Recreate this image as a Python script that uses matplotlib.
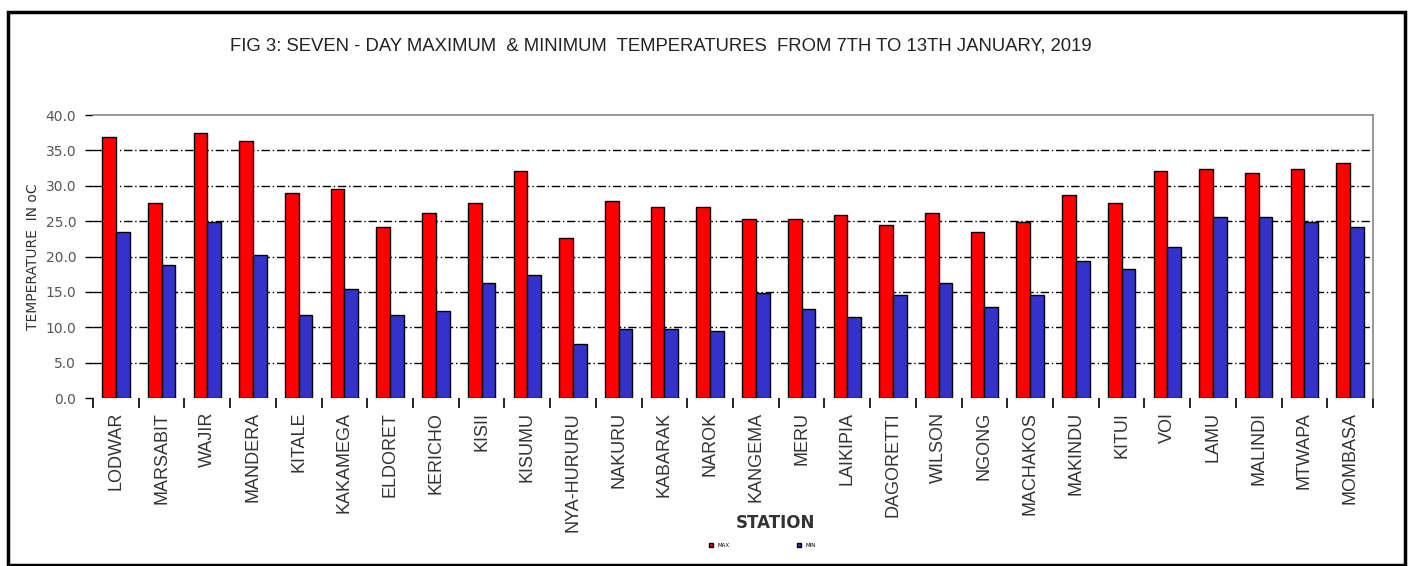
import matplotlib.pyplot as plt
import numpy as np
from matplotlib.patches import Rectangle
from matplotlib.ticker import FixedLocator, MultipleLocator, FormatStrFormatter

stations = ["LODWAR", "MARSABIT", "WAJIR", "MANDERA", "KITALE", "KAKAMEGA",
            "ELDORET", "KERICHO", "KISII", "KISUMU", "NYA-HURURU", "NAKURU",
            "KABARAK", "NAROK", "KANGEMA", "MERU", "LAIKIPIA", "DAGORETTI",
            "WILSON", "NGONG", "MACHAKOS", "MAKINDU", "KITUI", "VOI", "LAMU",
            "MALINDI", "MTWAPA", "MOMBASA"]
t_max = [36.9, 27.6, 37.5, 36.3, 29.0, 29.6, 24.2, 26.1, 27.6, 32.1, 22.6, 27.8,
         27.0, 27.0, 25.3, 25.3, 25.8, 24.4, 26.1, 23.4, 24.9, 28.7, 27.6, 32.1,
         32.4, 31.8, 32.4, 33.2]
t_min = [23.4, 18.8, 24.9, 20.2, 11.7, 15.4, 11.7, 12.3, 16.3, 17.4, 7.7, 9.8,
         9.8, 9.5, 14.9, 12.6, 11.4, 14.5, 16.3, 12.8, 14.5, 19.4, 18.2, 21.4,
         25.6, 25.6, 24.9, 24.2]

fig = plt.figure(figsize=(14.13, 5.66), dpi=100)
ax = fig.add_axes([0.0658, 0.2968, 0.9059, 0.5])

x = np.arange(len(stations))
w = 0.3
ax.bar(x - w / 2, t_max, w, color='#ff0000', edgecolor='black', linewidth=1.0,
       label='MAX', zorder=3)
ax.bar(x + w / 2, t_min, w, color='#3333cc', edgecolor='black', linewidth=1.0,
       label='MIN', zorder=3)

ax.set_xlim(-0.5, len(stations) - 0.5)
ax.set_ylim(0, 40)

ax.yaxis.set_major_locator(MultipleLocator(5))
ax.yaxis.set_major_formatter(FormatStrFormatter('%.1f'))
ax.tick_params(axis='y', length=6, width=1, pad=6, labelsize=10, colors='black')
for lab in ax.get_yticklabels():
    lab.set_color('#555555')

ax.set_xticks(x)
ax.set_xticklabels(stations, rotation=90, fontsize=13, family='Liberation Sans',
                   color='#333333')
ax.tick_params(axis='x', length=0, pad=10)
ax.xaxis.set_minor_locator(FixedLocator(np.arange(-0.5, len(stations), 1.0)))
ax.tick_params(axis='x', which='minor', length=7, width=1.2, direction='out',
               pad=0)

for v in range(5, 40, 5):
    ax.axhline(v, color='black', linestyle=(0, (6, 2, 1, 2)), linewidth=1.0,
               zorder=1)

ax.spines['left'].set_visible(False)
ax.spines['bottom'].set_visible(False)
ax.spines['top'].set_color('#888888')
ax.spines['right'].set_color('#888888')
ax.spines['top'].set_linewidth(1.2)
ax.spines['right'].set_linewidth(1.2)

ax.set_ylabel('TEMPERATURE  IN oC', fontsize=10, color='#333333', labelpad=4)
ax.set_xlabel('STATION', fontsize=12, fontweight='bold', color='#333333')
ax.xaxis.set_label_coords(0.533, -0.41)

fig.text(0.468, 0.918, 'FIG 3: SEVEN - DAY MAXIMUM  & MINIMUM  TEMPERATURES  FROM 7TH TO 13TH JANUARY, 2019',
         ha='center', va='center', fontsize=13.3, family='Liberation Sans',
         color='#222222')

ax.legend(loc='center', bbox_to_anchor=(0.523, -0.52), ncol=2, fontsize=4,
          frameon=False, handlelength=0.8, handleheight=0.8, columnspacing=12)

# outer frame
fig.patches.append(Rectangle((0.006, 0.002), 0.988, 0.976, transform=fig.transFigure,
                             fill=False, edgecolor='black', linewidth=2.5))

plt.savefig('out.png', dpi=100)
